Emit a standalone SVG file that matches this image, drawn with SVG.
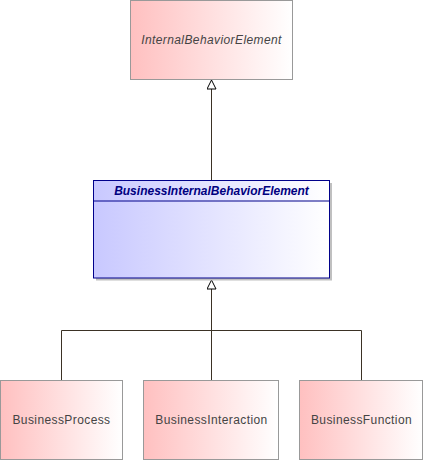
<svg xmlns="http://www.w3.org/2000/svg" width="423" height="460" viewBox="0 0 423 460">
<defs>
<linearGradient id="pink" x1="0" y1="0" x2="1" y2="0">
<stop offset="0" stop-color="#FFC0C0"/>
<stop offset="1" stop-color="#FFFFFF"/>
</linearGradient>
<linearGradient id="blue" x1="0" y1="0" x2="1" y2="0">
<stop offset="0" stop-color="#C8C8FF"/>
<stop offset="1" stop-color="#FFFFFF"/>
</linearGradient>
<marker id="gen" markerWidth="12" markerHeight="10" refX="10" refY="5" orient="auto" markerUnits="userSpaceOnUse">
<path d="M1,0.5 L10,5 L1,9.5 Z" fill="#FFFFFF" stroke="#000000" stroke-width="1"/>
</marker>
</defs>
<style>
.pbox{fill:url(#pink);stroke:#999999;stroke-width:1}
.bbox{fill:url(#blue);stroke:#00008B;stroke-width:1}
.shadow{fill:#C0C0C0}
.ptxt{font-family:"Liberation Sans",Arial,sans-serif;font-size:12px;letter-spacing:0.4px;fill:#444444;text-anchor:middle}
.btxt{font-family:"Liberation Sans",Arial,sans-serif;font-size:12px;font-weight:bold;font-style:italic;fill:#000080;text-anchor:middle}
.conn{fill:none;stroke:#3B3225;stroke-width:1}
</style>
<g id="connectors">
<path class="conn" d="M211.5,180 L211.5,80" marker-end="url(#gen)"/>
<path class="conn" d="M211.5,380 L211.5,280" marker-end="url(#gen)"/>
<path class="conn" d="M61.5,380 L61.5,330.5 L361.5,330.5 L361.5,380"/>
</g>
<g id="InternalBehaviorElement">
<rect class="pbox" x="130.5" y="0.5" width="162" height="79"/>
<text class="ptxt" x="211.5" y="44" font-style="italic">InternalBehaviorElement</text>
</g>
<g id="BusinessInternalBehaviorElement">
<rect class="shadow" x="96" y="183" width="236" height="97.5"/>
<rect class="bbox" x="93.5" y="180.5" width="236" height="97.5"/>
<line x1="93.5" y1="201" x2="329.5" y2="201" stroke="#00008B" stroke-width="1"/>
<text class="btxt" x="211.5" y="195">BusinessInternalBehaviorElement</text>
</g>
<g id="BusinessProcess">
<rect class="pbox" x="0.5" y="380.5" width="122" height="79"/>
<text class="ptxt" x="61.5" y="424">BusinessProcess</text>
</g>
<g id="BusinessInteraction">
<rect class="pbox" x="143.5" y="380.5" width="135" height="79"/>
<text class="ptxt" x="211.5" y="424">BusinessInteraction</text>
</g>
<g id="BusinessFunction">
<rect class="pbox" x="299.5" y="380.5" width="123" height="79"/>
<text class="ptxt" x="361.5" y="424">BusinessFunction</text>
</g>
</svg>
